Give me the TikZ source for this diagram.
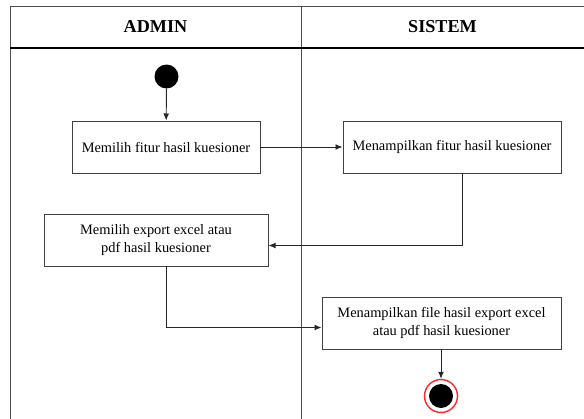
\documentclass[tikz,border=0pt]{standalone}
\usepackage{fontspec}
\setmainfont{Liberation Serif}
\usetikzlibrary{arrows.meta}
\begin{document}
\begin{tikzpicture}[x=0.03cm,y=-0.03cm,
  lane/.style={draw=black!70,line width=0.8pt},
  act/.style={draw=black!75,line width=0.8pt,fill=white,rectangle,inner sep=0pt,
    font=\fontsize{12.3}{15.3}\selectfont,align=center},
  flow/.style={draw=black!85,line width=0.8pt,-{Latex[length=6pt,width=5pt]}},
  hdr/.style={font=\fontsize{15.5}{18}\bfseries\selectfont}]
\useasboundingbox (0,0) rectangle (584,419);
% swimlane frame
\draw[lane] (584,6) -- (10,6) -- (10,419);
\draw[lane] (301,6) -- (301,419);
\draw[draw=black,line width=1pt] (10,48) -- (584,48);
\node[hdr] (hA) at (155.5,27) {ADMIN};
\node[hdr] (hS) at (442.5,27) {SISTEM};
% start
\node[circle,fill=black,minimum size=24*0.03cm,inner sep=0pt] (start) at (166.5,76.5) {};
% activities
\node[act,minimum width=188*0.03cm,minimum height=52*0.03cm] (a1) at (166,147) {Memilih fitur hasil kuesioner};
\node[act,minimum width=218*0.03cm,minimum height=52*0.03cm] (s1) at (452,147) {Menampilkan fitur hasil kuesioner};
\node[act,minimum width=224*0.03cm,minimum height=52*0.03cm] (a2) at (156,240) {Memilih export excel atau\\pdf hasil kuesioner};
\node[act,minimum width=239*0.03cm,minimum height=52*0.03cm] (s2) at (441.5,323) {Menampilkan file hasil export excel\\atau pdf hasil kuesioner};
% end
\node[circle,draw=red!85,line width=1.2pt,fill=white,minimum size=33*0.03cm,inner sep=0pt] (end) at (441,396) {};
\node[circle,fill=black,minimum size=24*0.03cm,inner sep=0pt] (endin) at (end.center) {};
% flows
\draw[flow] (start) -- (a1);
\draw[flow] (a1) -- (s1);
\draw[flow] (s1.south -| 462.5,0) |- (a2.east |- 0,245.5);
\draw[flow] (a2.south -| 166,0) |- (s2.west |- 0,327.5);
\draw[flow] (s2.south -| end) -- (end);
\end{tikzpicture}
\end{document}
